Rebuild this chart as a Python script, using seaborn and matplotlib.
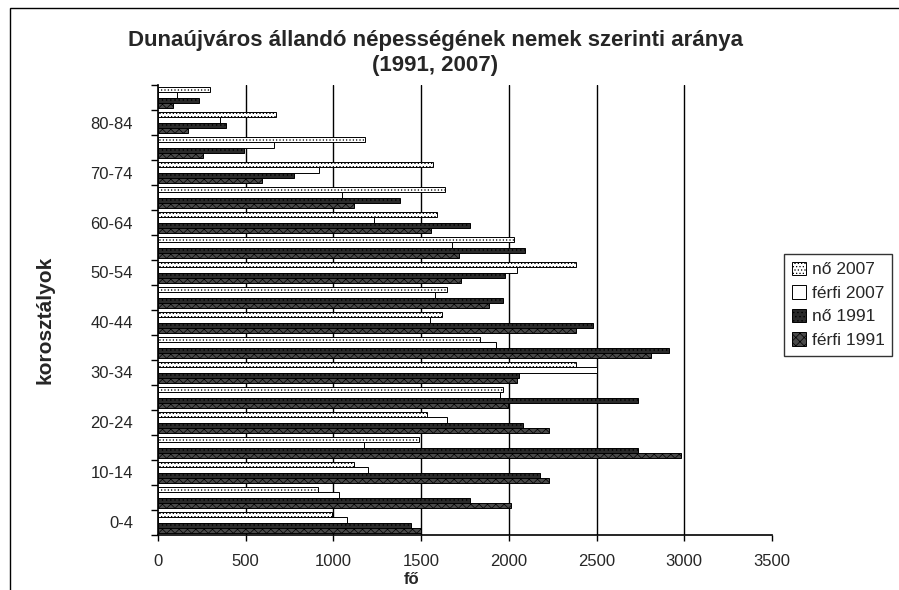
import pandas as pd
import seaborn as sns
import matplotlib.pyplot as plt
from matplotlib.patches import Patch, Rectangle

# korcsoportok alulról felfelé
ages = ['0-4', '5-9', '10-14', '15-19', '20-24', '25-29', '30-34', '35-39', '40-44',
        '45-49', '50-54', '55-59', '60-64', '65-69', '70-74', '75-79', '80-84', '85+']

no_2007 = [990, 912, 1119, 1490, 1533, 1964, 2380, 1835, 1620, 1645,
           2380, 2028, 1591, 1636, 1565, 1182, 673, 294]
ferfi_2007 = [1075, 1030, 1195, 1172, 1645, 1950, 2505, 1925, 1550, 1578,
              2048, 1678, 1231, 1049, 915, 660, 352, 106]
no_1991 = [1440, 1778, 2178, 2738, 2082, 2738, 2057, 2915, 2480, 1968,
           1978, 2090, 1780, 1382, 778, 490, 388, 236]
ferfi_1991 = [1497, 2014, 2226, 2982, 2230, 1994, 2045, 2812, 2382, 1885,
              1730, 1718, 1557, 1118, 590, 254, 172, 84]

series = ['nő 2007', 'férfi 2007', 'nő 1991', 'férfi 1991']

df = pd.DataFrame({
    'korcsoport': ages * 4,
    'csoport': [s for s in series for _ in ages],
    'fo': no_2007 + ferfi_2007 + no_1991 + ferfi_1991,
})

styles = {
    'nő 2007': dict(facecolor='white', hatch='.....'),
    'férfi 2007': dict(facecolor='white', hatch=''),
    'nő 1991': dict(facecolor='#2a2a2a', hatch='....'),
    'férfi 1991': dict(facecolor='#4a4a4a', hatch='xxxx'),
}

sns.set_theme(style='white')
plt.rcParams['font.family'] = ['Liberation Sans', 'DejaVu Sans']
plt.rcParams['hatch.linewidth'] = 0.5

fig = plt.figure(figsize=(8.99, 5.90), dpi=100)
ax = fig.add_axes([158 / 899, 1 - 535 / 590, 614 / 899, 450 / 590])

sns.barplot(data=df, x='fo', y='korcsoport', hue='csoport',
            order=ages[::-1], hue_order=series, orient='h',
            width=0.82, errorbar=None, legend=False, ax=ax)

for name, cont in zip(series, ax.containers):
    for bar in cont:
        bar.set_facecolor(styles[name]['facecolor'])
        bar.set_hatch(styles[name]['hatch'])
        bar.set_edgecolor('black')
        bar.set_linewidth(0.7)
        bar.set_zorder(3)

# vertical gridlines
for v in range(500, 3500, 500):
    ax.axvline(v, color='black', lw=1, zorder=1)

ax.set_xlim(0, 3500)
ax.set_xticks(range(0, 3501, 500))
ax.tick_params(axis='x', direction='out', length=4, width=1, color='black',
               labelsize=12, pad=10, bottom=True)

labels = [a if ages.index(a) % 2 == 0 else '' for a in ages[::-1]]
ax.set_yticks(range(len(ages)))
ax.set_yticklabels(labels)
ax.tick_params(axis='y', which='major', length=0, labelsize=12, pad=18)
ax.set_yticks([i - 0.5 for i in range(len(ages) + 1)], minor=True)
ax.tick_params(axis='y', which='minor', direction='out', length=5, width=1,
               color='black', left=True)
ax.set_xlabel('')
ax.set_ylabel('')

for side in ['top', 'right']:
    ax.spines[side].set_visible(False)
for side in ['left', 'bottom']:
    ax.spines[side].set_color('black')
    ax.spines[side].set_linewidth(1.2)

fig.text(435 / 899, 1 - 53 / 590,
         'Dunaújváros állandó népességének nemek szerinti aránya\n(1991, 2007)',
         ha='center', va='center', fontsize=16, fontweight='bold',
         linespacing=1.2)
fig.text(45 / 899, 1 - 320 / 590, 'korosztályok', rotation=90,
         ha='center', va='center', fontsize=15, fontweight='bold')
fig.text(412 / 899, 1 - 579 / 590, 'fő', ha='center', va='center',
         fontsize=12, fontweight='bold')

handles = [Patch(facecolor=styles[s]['facecolor'], hatch=styles[s]['hatch'],
                 edgecolor='black', linewidth=0.7, label=s) for s in series]
leg = fig.legend(handles=handles, loc='upper left',
                 bbox_to_anchor=(784 / 899, 1 - 254 / 590),
                 frameon=True, fancybox=False, edgecolor='black',
                 fontsize=12.5, handlelength=0.8, handleheight=0.8,
                 handletextpad=0.35, labelspacing=0.45, borderpad=0.45,
                 borderaxespad=0)
leg.get_frame().set_linewidth(1)

# chart area border
fig.patches.append(Rectangle((10 / 899, -0.05), 1.0, 1 - 8 / 590 + 0.05,
                             transform=fig.transFigure, fill=False,
                             edgecolor='black', lw=1))

fig.savefig('out.png', dpi=100)
